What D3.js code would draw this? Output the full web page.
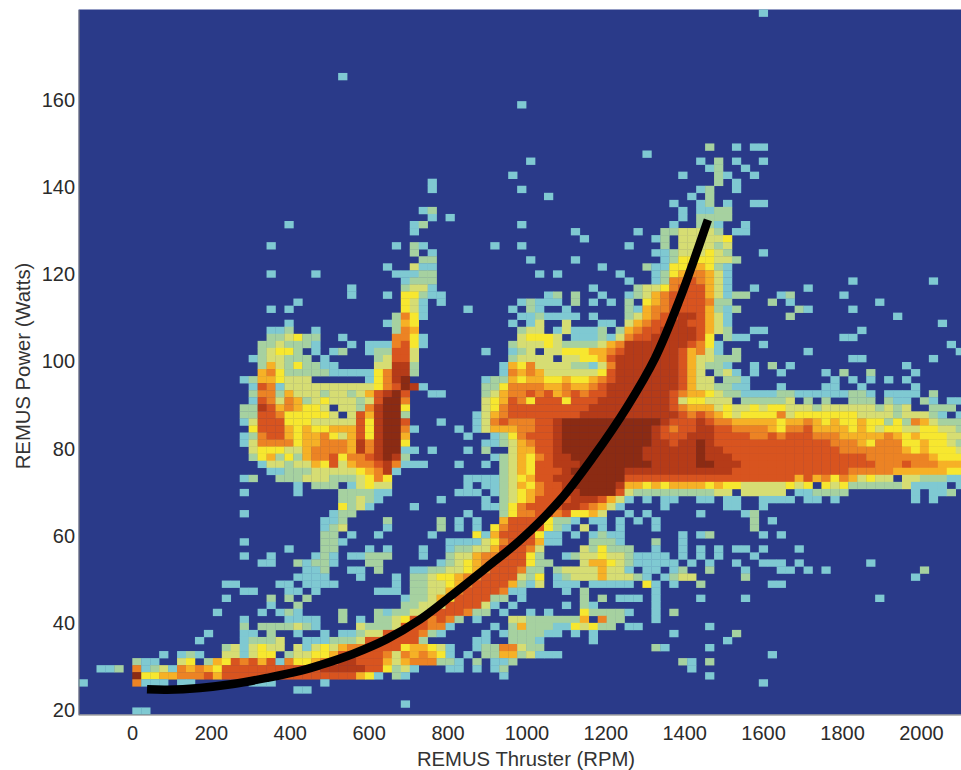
<!DOCTYPE html>
<html>
<head>
<meta charset="utf-8">
<script src="https://cdn.jsdelivr.net/npm/d3@7"></script>
<style>
  html, body { margin: 0; padding: 0; background: #fff; }
  svg { display: block; font-family: "Liberation Sans", Arial, sans-serif; }
  .tick text { font-size: 20px; fill: #2b2b2b; }
  .axis-title { font-size: 20.3px; fill: #333; }
</style>
</head>
<body>
<svg id="chart" width="961" height="770"></svg>
<script>
// histogram bins, level 0 = empty, 9 = densest
const rpmMin = -135.4, rpmBin = 22.69;
const wattMin = 19.0, wattBin = 1.618;
const binCount = 100;

// [row from top, "startColumn:levels ..."]
const heatRuns = [
  [0, "76:1"],
  [9, "29:1"],
  [13, "49:1"],
  [19, "70:2 73:1 75:11"],
  [20, "63:1"],
  [21, "50:1 69:1 71:2 73:1 76:1"],
  [22, "70:12 74:1"],
  [23, "48:1 67:1 71:21 75:1"],
  [24, "39:1 71:2 73:1"],
  [25, "39:1 49:1 69:12 73:1"],
  [26, "52:1 68:1 70:2"],
  [27, "66:1 69:12 72:1 75:11"],
  [28, "38:12 67:1 69:1122"],
  [29, "39:1 41:1 67:1 69:2222"],
  [30, "23:1 37:12 49:1 66:1 69:221 74:1"],
  [31, "37:1 55:1 62:1 65:2233332 73:11"],
  [32, "56:1 64:120333334"],
  [33, "21:1 35:1 37:21 46:1 49:1 61:1 65:2 67:333323"],
  [34, "37:2 39:1 64:112333432 76:1"],
  [35, "38:22 50:1 55:1 65:124444332"],
  [36, "34:1 37:311 58:1 63:2114455421"],
  [37, "21:1 26:1 35:1 36:1122 51:1 53:1 60:1 64:124566531"],
  [38, "36:1222 61:1 64:126676531 86:1 95:1"],
  [39, "30:1 36:2331 57:1 62:23346777531 75:1 81:1"],
  [40, "30:1 34:1 36:44211 52:12 55:2 58:1 61:12356777753122 78:12 85:1"],
  [41, "24:1 36:431 40:1 49:12111 55:2 57:1 59:1 61:204567777622 77:2 79:1 89:1"],
  [42, "21:1 23:1 36:431 43:1 48:1 50:21 54:1 61:2156677775212 80:21 86:1"],
  [43, "35:2641 49:1121111 57:1 61:235677887531 79:2 91:1"],
  [44, "23:1 34:1254 48:1 50:13 54:3 58:11 61:356778877531 96:1"],
  [45, "21:112 26:1 35:265 49:233 53:131112 60:2567788887532 75:11 87:1"],
  [46, "21:223422 29:1 35:6641 49:34443 55:111213 61:67788888740211 85:11"],
  [47, "20:2232221 30:1 32:1116741 48:233343222235688888887641 76:1 97:1"],
  [48, "20:2344201 28:12 32:122773 45:1 48:123033444556788888875 69:631 73:2 81:1 98:1"],
  [49, "19:1233222 27:1 33:23773 48:233330334457888888875 69:33222 86:11 95:1"],
  [50, "20:253242211 33:33882 47:1546333322136888888875 69:3221 75:1 77:2 79:1 92:1"],
  [51, "20:564222221111146882 47:1656533333347888888875 69:30231 75:1 78:1 83:1 85:2 88:2 93:1"],
  [52, "18:12554333 32:14689 45:122545544544567888888875 69:330221 84:1 86:1 88:1 90:1 92:1"],
  [53, "19:1761333333333346798 38:1 45:224666655655678888888875 69:332211 78:1 83:11 87:1 93:1"],
  [54, "19:266253332332357897 39:11 45:235667675676778888888765 69:54322111122111111221 90:1111 95:2"],
  [55, "19:176365234333237996 45:345764777477788888888734 69:433302222230202002220211021011"],
  [56, "18:2287565443033268994 45:346777777777888888888765 69:55343343443332333333232300222"],
  [57, "18:2277644444303758992 44:1356777777778888888888876 69:765434444 6344444443333233321 01"],
  [58, "18:1377744433333748997 40:1 44:1367666778999999999998777 69:876655555 4556545445442426 53222"],
  [59, "19:4777545445557489961 42:1 44:1355566778999999999987677 69:887766665466755554543443344332"],
  [60, "18:1267754556435748995 43:1 46:12467778999999999987778 69:887777667677766655555654544433"],
  [61, "18:1366664556665868994 45:1123567789999999999 64:88788 69:987777777777777666 5466644 54432"],
  [62, "19:344433566665868991101 43:1 45:2 48:355778999999999888888 69:988777777777777766666665454443"],
  [63, "19:245242566746678982 46:12354678 54:899999999888888 69:988877777777777777766666665444"],
  [64, "20:1332335473566786111 42:1 45:1 47:23547788899999999 64:88888 69:998887777777777777776667666555"],
  [65, "21:112223333345681 47:23547778999999 61:88888888 69:888877777777777776666655555544"],
  [66, "18:12 22:2223332223464 43:1111234577888 56:99999 61:77777777 69:777777777775756465343303322211"],
  [67, "24:1 26:222 30:13433 43:1 45:1123546778 55:99999 60:855454555 69:545443333343404342222223111101"],
  [68, "18:1 24:1 29:222211 42:111 46:1234567788 56:9999 60:732222222 69:22330333330112222 93:1 95:11 97:2"],
  [69, "29:22321 40:1 45:1 47:234577778887531 63:1 65:11 69:11 72:11 76:1111 81:11 84:1 93:1 95:1"],
  [70, "29:4231 37:1 45:11 47:24677778876531 65:1 72:11 76:1"],
  [71, "18:1 28:122 43:1 47:246677674453 61:1 63:1 69:1 74:12"],
  [72, "27:112 34:2 40:2 42:1 44:1 47:577774221 57:11 60:1 62:1 64:1 75:2 77:1"],
  [73, "27:123 34:1 40:2 42:1 44:1 46:467777421 56:3 58:1 60:1 64:1 75:2"],
  [74, "27:22 30:1 33:1 39:1 44:41577774 52:11 55:1 57:121 60:1 67:1 69:12 76:1 78:1"],
  [75, "18:1 27:221 41:11113467775 52:11 57:2221 64:2 67:1"],
  [76, "23:1 27:22 32:1 34:1 38:1 41:12233577763 56:324222 64:1 67:1 69:1 71:1 73:11 76:1 80:1"],
  [77, "18:1 21:1 26:121 30:11222 38:1 41:23356677742 54:123343321111 67:1 69:1 71:1 75:1"],
  [78, "20:11 24:21221 32:22 40:1234567777422 56:35543211111 68:1 70:1 73:1 76:111 80:1 88:1"],
  [79, "25:112 30:11 33:2 37:112233456777622 53:233335331 63:11 66:12 70:2 74:1 78:11 81:1 83:1 94:2"],
  [80, "24:1111 31:1 35:1 37:223445667777324 53:12333533321 65:1233 74:2 93:1"],
  [81, "16:11 22:11 25:1111 35:1 37:223345677775213 53:111 57:11111 63:41 66:1 69:2 77:11"],
  [82, "18:11 23:11 26:1 33:111 37:2233567777611 54:1 56:2 64:1"],
  [83, "16:1 21:2 23:2 25:2 36:122354777722 49:1 56:2 58:2 60:111 64:1 69:1 74:1 89:1"],
  [84, "21:1 24:2 36:22333777731 48:1 54:1 56:21 64:1"],
  [85, "15:1 20:1 22:121 29:2 33:2122337777622 47:1 50:1 52:1 56:42222 61:1 64:1 66:2"],
  [86, "18:1 23:1111 29:2 31:1 33:2234776762 44:1 48:3322222250622 64:1"],
  [87, "18:2 20:2222321 31:32223777661 46:1 48:252221143422 61:11 70:1"],
  [88, "14:1 18:11 21:2 24:1 27:1 29:112337777621 45:1 47:1222211 55:1 57:1 66:1 73:2"],
  [89, "13:1 18:12223 25:111 28:22237777772 44:11 48:2221 57:1 72:1"],
  [90, "16:2313433 24:313435667777455431 44:12266322 64:21 70:1"],
  [91, "9:1 11:121 16:33 18:1 19:344 23:2334457777763656541 43:1 45:225523 51:111 77:1"],
  [92, "6:211 11:34 14:25476757164456788777535666221 44:2 46:112 67:21 70:2"],
  [93, "2:112 6:6123165654 16:77777777777 27:88888 32:774231 41:11 44:1 46:12 68:1"],
  [94, "6:9445566675 16:777777777777777 31:541 35:21 47:1 70:1"],
  [95, "0:1 6:6111011 19:111 27:1 76:1"],
  [96, "24:11"],
  [98, "36:1"],
  [99, "6:11"]
];

const levelColors = ["#2a3a89", "#7fc9d2", "#a6d1a0", "#d6dd73", "#f7e72f", "#f6b126", "#ec8324", "#d8541f", "#b53b18", "#8b2b13"];

const xTicks = [0, 200, 400, 600, 800, 1000, 1200, 1400, 1600, 1800, 2000];
const yTicks = [20, 40, 60, 80, 100, 120, 140, 160];

// black fit line, [rpm, watts]
const fitRpm = [38, 89, 172, 256, 342, 426, 477, 560, 646, 730, 814, 900, 984, 1085, 1169, 1255, 1326, 1389, 1422, 1460];
const fitWatts = [24.8, 24.7, 25.1, 26.0, 27.4, 29.0, 30.35, 32.9, 36.3, 40.8, 46.6, 52.8, 59.0, 68.2, 78.1, 89.6, 100.8, 114.4, 122.6, 132.5];

const svg = d3.select("#chart");

const x = d3.scaleLinear().domain([rpmMin, rpmMin + binCount * rpmBin]).range([78.6, 973.6]);
const y = d3.scaleLinear().domain([wattMin, wattMin + binCount * wattBin]).range([714.5, 9.5]);
const color = d3.scaleOrdinal().domain(d3.range(10)).range(levelColors);

// expand the runs into cells
const cells = [];
heatRuns.forEach(([row, text]) => {
    text.replace(/(\d+):([\d ]*?)(?=\s+\d+:|$)/g, (m, start, levels) => {
        levels.replace(/ /g, "").split("").forEach((l, i) => {
            cells.push({ col: +start + i, row: row, level: +l });
        });
        return m;
    });
});

const plot = svg.append("g").attr("style", "filter: blur(0.45px)");

plot.append("rect")
    .attr("x", x.range()[0])
    .attr("y", y.range()[1])
    .attr("width", 961 - x.range()[0])
    .attr("height", y.range()[0] - y.range()[1])
    .attr("fill", color(0));

plot.selectAll("rect.cell")
    .data(cells.filter(d => d.level > 0))
    .join("rect")
    .attr("class", "cell")
    .attr("x", d => x(rpmMin + d.col * rpmBin))
    .attr("y", d => y(wattMin + (binCount - d.row) * wattBin))
    .attr("width", x(rpmBin) - x(0) + 0.3)
    .attr("height", y(0) - y(wattBin) + 0.3)
    .attr("fill", d => color(d.level));

const line = d3.line().x(d => x(d[0])).y(d => y(d[1])).curve(d3.curveCatmullRom);

plot.append("path")
    .attr("d", line(fitRpm.map((r, i) => [r, fitWatts[i]])))
    .attr("fill", "none")
    .attr("stroke", "#000")
    .attr("stroke-width", 8.5);

// axes, no tick marks in the original
const xAxis = svg.append("g")
    .attr("transform", `translate(0,${y.range()[0]})`)
    .call(d3.axisBottom(x).tickValues(xTicks).tickFormat(d3.format("d")).tickSize(0).tickPadding(11.3));
const yAxis = svg.append("g")
    .attr("transform", `translate(${x.range()[0]},0)`)
    .call(d3.axisLeft(y).tickValues(yTicks).tickFormat(d3.format("d")).tickSize(0).tickPadding(3.6));

xAxis.select(".domain").attr("stroke", "#777").attr("d", "M78.6,0.5H961");
yAxis.select(".domain").attr("stroke", "#777");

svg.append("text")
    .attr("class", "axis-title")
    .attr("x", 526)
    .attr("y", 766)
    .attr("text-anchor", "middle")
    .text("REMUS Thruster (RPM)");

svg.append("text")
    .attr("class", "axis-title")
    .attr("transform", "translate(30,366) rotate(-90)")
    .attr("text-anchor", "middle")
    .text("REMUS Power (Watts)");
</script>
</body>
</html>
